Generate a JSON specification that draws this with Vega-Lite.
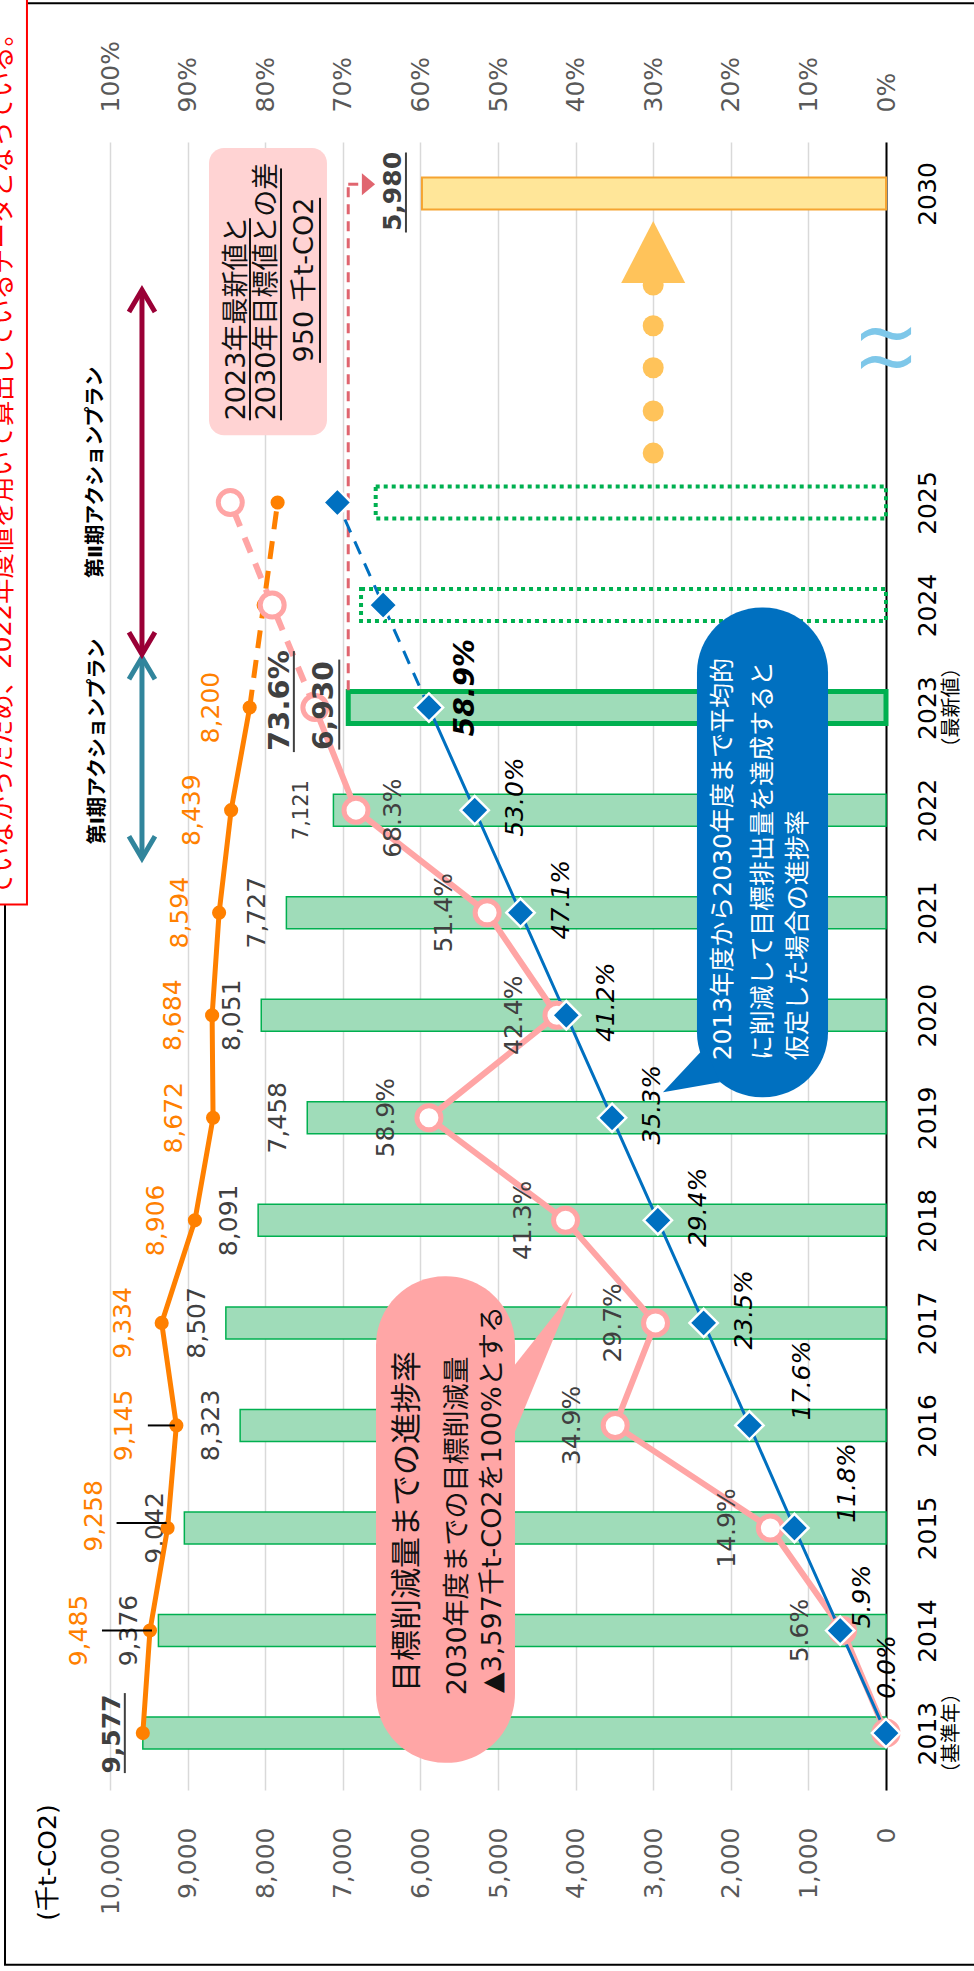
{
"$schema": "https://vega.github.io/schema/vega-lite/v6.json",
"width": 776, "height": 1648,
"autosize": {"type": "none"},
"padding": {"left": 110, "top": 142, "right": 88, "bottom": 181},
"background": "#ffffff",
"config": {"view": {"stroke": null}, "font": "DejaVu Sans, Noto Sans CJK JP"},
"datasets": {
 "d": [
  {"year":2013,"emis":9577,"orange":9577,"pct":0,"target":0},
  {"year":2014,"emis":9376,"orange":9485,"pct":0.056,"target":0.059},
  {"year":2015,"emis":9042,"orange":9258,"pct":0.149,"target":0.118},
  {"year":2016,"emis":8323,"orange":9145,"pct":0.349,"target":0.176},
  {"year":2017,"emis":8507,"orange":9334,"pct":0.297,"target":0.235},
  {"year":2018,"emis":8091,"orange":8906,"pct":0.413,"target":0.294},
  {"year":2019,"emis":7458,"orange":8672,"pct":0.589,"target":0.353},
  {"year":2020,"emis":8051,"orange":8684,"pct":0.424,"target":0.412},
  {"year":2021,"emis":7727,"orange":8594,"pct":0.514,"target":0.471},
  {"year":2022,"emis":7121,"orange":8439,"pct":0.683,"target":0.530},
  {"year":2023,"emis":6930,"orange":8200,"pct":0.736,"target":0.589},
  {"year":2024,"emis":null,"orange":8020,"pct":0.791,"target":0.648},
  {"year":2025,"emis":null,"orange":7840,"pct":0.845,"target":0.707}
 ],
 "goal": [{"year":2030,"goal":5980}],
 "proj": [{"year":2024,"proj":6765},{"year":2025,"proj":6576}],
 "dots": [{"year":2025.80},{"year":2026.48},{"year":2027.18},{"year":2027.86},{"year":2028.52}],
 "sub": [{"year":2013,"t":"（基準年）"},{"year":2023,"t":"（最新値）"}],
 "one": [{}]
},
"data": {"name": "d"},
"resolve": {"scale": {"x": "independent"}},
"layer": [
{"layer": [
 {"data":{"name":"one"},"mark":{"type":"rect","filled":false,"color":"#000000","strokeWidth":2},
  "encoding":{"x":{"datum":11353,"type":"quantitative"},"x2":{"datum":-1340},"y":{"datum":2032.05,"type":"quantitative"},"y2":{"datum":2010.74}}},
 {"data":{"name":"one"},"mark":{"type":"rect","fill":"#ffffff","stroke":"#ff0000","strokeWidth":2},
  "encoding":{"x":{"datum":11482,"type":"quantitative"},"x2":{"datum":11070},"y":{"datum":2032.2,"type":"quantitative"},"y2":{"datum":2021.08}}},
 {"data":{"name":"one"},"mark":{"type":"text","text":"ていなかったため、2022年度値を用いて算出しているデータとなっている。","angle":270,"align":"left","baseline":"middle","fontSize":25.5,"color":"#ff0000"},
  "encoding":{"x":{"datum":11379,"type":"quantitative"},"y":{"datum":2021.14,"type":"quantitative"}}},
 {"transform":[{"filter":"datum.emis != null"}],
  "mark":{"type":"bar","orient":"horizontal","size":32,"fill":"#9fdcb9","stroke":"#00b050","strokeWidth":1.5},
  "encoding":{
   "x":{"field":"emis","type":"quantitative","scale":{"domain":[0,10000],"reverse":true,"nice":false,"zero":false},
    "axis":{"orient":"bottom","values":[0,1000,2000,3000,4000,5000,6000,7000,8000,9000,10000],"labelExpr":"format(datum.value, ',')","labelAngle":270,"labelAlign":"right","labelBaseline":"middle","labelPadding":37,"ticks":false,"tickSize":0,"domain":false,"grid":true,"gridColor":"#d9d9d9","gridWidth":1.5,"labelFontSize":25,"labelColor":"#595959","labelOverlap":false,"labelFlush":false,
     "title":"(千t-CO2)","titleAngle":270,"titleX":-63,"titleY":72,"titleAlign":"center","titleBaseline":"middle","titleFontSize":25,"titleFontWeight":"normal","titleColor":"#000000"}},
   "x2":{"datum":0},
   "y":{"field":"year","type":"quantitative","scale":{"domain":[2012.5,2025,2030,2030.5],"range":[1648,360.5,51.5,0],"nice":false,"zero":false},
    "axis":{"orient":"right","values":[2013,2014,2015,2016,2017,2018,2019,2020,2021,2022,2023,2024,2025,2030],"labelExpr":"format(datum.value, 'd')","labelAngle":270,"labelAlign":"center","labelBaseline":"top","labelPadding":29,"ticks":false,"tickSize":0,"domain":true,"domainColor":"#000000","domainWidth":2,"grid":false,"labelFontSize":25,"labelColor":"#000000","labelOverlap":false,"labelFlush":false,"title":null}}
  }},
 {"transform":[{"filter":"datum.year == 2023"}],
  "mark":{"type":"bar","orient":"horizontal","size":32,"fill":"#9fdcb9","stroke":"#00b050","strokeWidth":5},
  "encoding":{"x":{"field":"emis","type":"quantitative"},"x2":{"datum":0},"y":{"field":"year","type":"quantitative"}}},
 {"data":{"name":"goal"},
  "mark":{"type":"bar","orient":"horizontal","size":32,"fill":"#ffe699","stroke":"#f5a431","strokeWidth":2},
  "encoding":{"x":{"field":"goal","type":"quantitative"},"x2":{"datum":0},"y":{"field":"year","type":"quantitative"}}},
 {"data":{"name":"proj"},
  "mark":{"type":"bar","orient":"horizontal","size":32,"fill":"transparent","stroke":"#00b050","strokeWidth":4,"strokeDash":[4,4]},
  "encoding":{"x":{"field":"proj","type":"quantitative"},"x2":{"datum":0},"y":{"field":"year","type":"quantitative"}}},
 {"data":{"name":"one"},"mark":{"type":"rule","color":"#e0656f","strokeWidth":3,"strokeDash":[10,7]},
  "encoding":{"x":{"datum":6930,"type":"quantitative"},"y":{"datum":2023.17,"type":"quantitative"},"y2":{"datum":2030.1}}},
 {"data":{"name":"one"},"mark":{"type":"rule","color":"#e0656f","strokeWidth":3,"strokeDash":[10,7]},
  "encoding":{"x":{"datum":6930,"type":"quantitative"},"x2":{"datum":6735},"y":{"datum":2030.1,"type":"quantitative"}}},
 {"data":{"name":"one"},"mark":{"type":"point","shape":"M-0.6,-1L0.6,0L-0.6,1Z","size":484,"filled":true,"color":"#e0656f","opacity":1},
  "encoding":{"x":{"datum":6669,"type":"quantitative"},"y":{"datum":2030.1,"type":"quantitative"}}},

 {"data":{"name":"one"},"mark":{"type":"rect","fill":"#ffa6a6","cornerRadius":69},
  "encoding":{"x":{"datum":6572,"type":"quantitative"},"x2":{"datum":4781},"y":{"datum":2017.456,"type":"quantitative"},"y2":{"datum":2012.71}}},
 {"data":{"name":"one"},"mark":{"type":"point","shape":"M0,0L-6.5,8.2L-6.5,15.7Z","size":400,"filled":true,"color":"#ffa6a6","opacity":1},
  "encoding":{"x":{"datum":4034,"type":"quantitative"},"y":{"datum":2017.306,"type":"quantitative"}}},
 {"data":{"name":"one"},"mark":{"type":"text","text":"目標削減量までの進捗率","angle":270,"align":"left","baseline":"middle","fontSize":31,"color":"#111111"},
  "encoding":{"x":{"datum":6160,"type":"quantitative"},"y":{"datum":2013.40,"type":"quantitative"}}},
 {"data":{"name":"one"},"mark":{"type":"text","text":"2030年度までの目標削減量","angle":270,"align":"left","baseline":"middle","fontSize":27,"color":"#111111"},
  "encoding":{"x":{"datum":5515,"type":"quantitative"},"y":{"datum":2013.37,"type":"quantitative"}}},
 {"data":{"name":"one"},"mark":{"type":"text","text":"▲3,597千t-CO2を100%とする","angle":270,"align":"left","baseline":"middle","fontSize":27,"color":"#111111"},
  "encoding":{"x":{"datum":5064,"type":"quantitative"},"y":{"datum":2013.39,"type":"quantitative"}}},

 {"data":{"name":"one"},"mark":{"type":"rect","fill":"#0070c0","cornerRadius":65},
  "encoding":{"x":{"datum":2436,"type":"quantitative"},"x2":{"datum":747},"y":{"datum":2023.976,"type":"quantitative"},"y2":{"datum":2019.2}}},
 {"data":{"name":"one"},"mark":{"type":"point","shape":"M0,0L4.2,-4.5L5.7,-1.0Z","size":400,"filled":true,"color":"#0070c0","opacity":1},
  "encoding":{"x":{"datum":2874,"type":"quantitative"},"y":{"datum":2019.25,"type":"quantitative"}}},
 {"data":{"name":"one"},"mark":{"type":"text","text":"2013年度から2030年度まで平均的","angle":270,"align":"left","baseline":"middle","fontSize":25,"color":"#ffffff"},
  "encoding":{"x":{"datum":2101,"type":"quantitative"},"y":{"datum":2019.56,"type":"quantitative"}}},
 {"data":{"name":"one"},"mark":{"type":"text","text":"に削減して目標排出量を達成すると","angle":270,"align":"left","baseline":"middle","fontSize":25,"color":"#ffffff"},
  "encoding":{"x":{"datum":1585,"type":"quantitative"},"y":{"datum":2019.56,"type":"quantitative"}}},
 {"data":{"name":"one"},"mark":{"type":"text","text":"仮定した場合の進捗率","angle":270,"align":"left","baseline":"middle","fontSize":25,"color":"#ffffff"},
  "encoding":{"x":{"datum":1134,"type":"quantitative"},"y":{"datum":2019.56,"type":"quantitative"}}},

 {"data":{"name":"one"},"mark":{"type":"rect","fill":"#ffd3d3","cornerRadius":15},
  "encoding":{"x":{"datum":8724,"type":"quantitative"},"x2":{"datum":7204},"y":{"datum":2030.49,"type":"quantitative"},"y2":{"datum":2026.09}}},
 {"data":{"name":"one"},"mark":{"type":"text","text":"2023年最新値と","angle":270,"align":"left","baseline":"middle","fontSize":27,"color":"#111111"},
  "encoding":{"x":{"datum":8363,"type":"quantitative"},"y":{"datum":2026.33,"type":"quantitative"}}},
 {"data":{"name":"one"},"mark":{"type":"text","text":"2030年目標値との差","angle":270,"align":"left","baseline":"middle","fontSize":27,"color":"#111111"},
  "encoding":{"x":{"datum":7977,"type":"quantitative"},"y":{"datum":2026.33,"type":"quantitative"}}},
 {"data":{"name":"one"},"mark":{"type":"text","text":"950 千t-CO2","angle":270,"align":"center","baseline":"middle","fontSize":27,"color":"#111111"},
  "encoding":{"x":{"datum":7487,"type":"quantitative"},"y":{"datum":2028.60,"type":"quantitative"}}},
 {"data":{"name":"one"},"mark":{"type":"rule","color":"#111111","strokeWidth":2},
  "encoding":{"x":{"datum":8196,"type":"quantitative"},"y":{"datum":2026.33,"type":"quantitative"},"y2":{"datum":2029.60}}},
 {"data":{"name":"one"},"mark":{"type":"rule","color":"#111111","strokeWidth":2},
  "encoding":{"x":{"datum":7796,"type":"quantitative"},"y":{"datum":2026.33,"type":"quantitative"},"y2":{"datum":2030.27}}},
 {"data":{"name":"one"},"mark":{"type":"rule","color":"#111111","strokeWidth":2},
  "encoding":{"x":{"datum":7294,"type":"quantitative"},"y":{"datum":2027.26,"type":"quantitative"},"y2":{"datum":2029.93}}},

 {"transform":[{"filter":"datum.year >= 2014 && datum.year <= 2021"}],
  "mark":{"type":"text","angle":270,"align":"center","baseline":"middle","fontSize":25,"color":"#404040","xOffset":-29},
  "encoding":{"x":{"field":"emis","type":"quantitative"},"y":{"field":"year","type":"quantitative"},"text":{"field":"emis","format":","}}},
 {"transform":[{"filter":"datum.year == 2022"}],
  "mark":{"type":"text","angle":270,"align":"center","baseline":"middle","fontSize":21,"color":"#404040","xOffset":-31},
  "encoding":{"x":{"field":"emis","type":"quantitative"},"y":{"field":"year","type":"quantitative"},"text":{"field":"emis","format":","}}},
 {"transform":[{"filter":"datum.year == 2013"}],
  "mark":{"type":"text","angle":270,"align":"center","baseline":"middle","fontSize":25,"fontWeight":"bold","color":"#404040","xOffset":-31,"yOffset":1},
  "encoding":{"x":{"field":"emis","type":"quantitative"},"y":{"field":"year","type":"quantitative"},"text":{"field":"emis","format":","}}},
 {"transform":[{"filter":"datum.year == 2013"}],
  "mark":{"type":"tick","orient":"vertical","size":80,"thickness":2,"color":"#404040","xOffset":-18,"opacity":1},
  "encoding":{"x":{"field":"emis","type":"quantitative"},"y":{"field":"year","type":"quantitative"}}},
 {"data":{"name":"goal"},
  "mark":{"type":"text","angle":270,"align":"center","baseline":"middle","fontSize":25,"fontWeight":"bold","color":"#404040","xOffset":-29,"yOffset":-2},
  "encoding":{"x":{"field":"goal","type":"quantitative"},"y":{"field":"year","type":"quantitative"},"text":{"field":"goal","format":","}}},
 {"data":{"name":"goal"},
  "mark":{"type":"tick","orient":"vertical","size":80,"thickness":2,"color":"#404040","xOffset":-16,"yOffset":-1,"opacity":1},
  "encoding":{"x":{"field":"goal","type":"quantitative"},"y":{"field":"year","type":"quantitative"}}},

 {"transform":[{"filter":"datum.year <= 2023"}],
  "mark":{"type":"line","color":"#ff8000","strokeWidth":5},
  "encoding":{"x":{"field":"orange","type":"quantitative"},"y":{"field":"year","type":"quantitative"},"order":{"field":"year","type":"quantitative"}}},
 {"transform":[{"filter":"datum.year >= 2023"}],
  "mark":{"type":"line","color":"#ff8000","strokeWidth":5,"strokeDash":[18,12]},
  "encoding":{"x":{"field":"orange","type":"quantitative"},"y":{"field":"year","type":"quantitative"},"order":{"field":"year","type":"quantitative"}}},
 {"mark":{"type":"circle","size":200,"color":"#ff8000","opacity":1},
  "encoding":{"x":{"field":"orange","type":"quantitative"},"y":{"field":"year","type":"quantitative"}}},
 {"transform":[{"filter":"datum.year >= 2017 && datum.year <= 2023"}],
  "mark":{"type":"text","angle":270,"align":"center","baseline":"middle","fontSize":25,"color":"#ff8000","xOffset":-39},
  "encoding":{"x":{"field":"orange","type":"quantitative"},"y":{"field":"year","type":"quantitative"},"text":{"field":"orange","format":","}}},
 {"transform":[{"filter":"datum.year == 2014"}],
  "mark":{"type":"text","angle":270,"align":"center","baseline":"middle","fontSize":25,"color":"#ff8000","xOffset":-71},
  "encoding":{"x":{"field":"orange","type":"quantitative"},"y":{"field":"year","type":"quantitative"},"text":{"field":"orange","format":","}}},
 {"transform":[{"filter":"datum.year == 2015"}],
  "mark":{"type":"text","angle":270,"align":"center","baseline":"middle","fontSize":25,"color":"#ff8000","xOffset":-74,"yOffset":-12},
  "encoding":{"x":{"field":"orange","type":"quantitative"},"y":{"field":"year","type":"quantitative"},"text":{"field":"orange","format":","}}},
 {"transform":[{"filter":"datum.year == 2016"}],
  "mark":{"type":"text","angle":270,"align":"center","baseline":"middle","fontSize":25,"color":"#ff8000","xOffset":-52},
  "encoding":{"x":{"field":"orange","type":"quantitative"},"y":{"field":"year","type":"quantitative"},"text":{"field":"orange","format":","}}},
 {"transform":[{"filter":"datum.year == 2014"}],
  "mark":{"type":"tick","orient":"horizontal","size":50,"thickness":2,"color":"#000000","xOffset":-23,"opacity":1},
  "encoding":{"x":{"field":"orange","type":"quantitative"},"y":{"field":"year","type":"quantitative"}}},
 {"transform":[{"filter":"datum.year == 2015"}],
  "mark":{"type":"tick","orient":"horizontal","size":50,"thickness":2,"color":"#000000","xOffset":-26,"yOffset":-5,"opacity":1},
  "encoding":{"x":{"field":"orange","type":"quantitative"},"y":{"field":"year","type":"quantitative"}}},
 {"transform":[{"filter":"datum.year == 2016"}],
  "mark":{"type":"tick","orient":"horizontal","size":27,"thickness":2,"color":"#000000","xOffset":-15,"opacity":1},
  "encoding":{"x":{"field":"orange","type":"quantitative"},"y":{"field":"year","type":"quantitative"}}},

 {"data":{"name":"dots"},"mark":{"type":"circle","size":441,"color":"#ffc35a","opacity":1},
  "encoding":{"x":{"datum":3000,"type":"quantitative"},"y":{"field":"year","type":"quantitative"}}},
 {"data":{"name":"one"},"mark":{"type":"point","shape":"M-3.2,0L3.2,0L0,-6.2Z","size":400,"filled":true,"color":"#ffc35a","opacity":1},
  "encoding":{"x":{"datum":3000,"type":"quantitative"},"y":{"datum":2028.55,"type":"quantitative"}}},
 {"data":{"name":"one"},"mark":{"type":"text","text":"~","align":"center","baseline":"middle","fontSize":80,"color":"#7ec7e9","yOffset":-14},
  "encoding":{"x":{"datum":0,"type":"quantitative"},"y":{"datum":2027.48,"type":"quantitative"}}},
 {"data":{"name":"one"},"mark":{"type":"text","text":"~","align":"center","baseline":"middle","fontSize":80,"color":"#7ec7e9","yOffset":14},
  "encoding":{"x":{"datum":0,"type":"quantitative"},"y":{"datum":2027.48,"type":"quantitative"}}},

 {"data":{"name":"one"},"mark":{"type":"rule","color":"#31859c","strokeWidth":5},
  "encoding":{"x":{"datum":9588,"type":"quantitative"},"y":{"datum":2021.56,"type":"quantitative"},"y2":{"datum":2023.46}}},
 {"data":{"name":"one"},"mark":{"type":"point","shape":"M-1.3,2.2L0,0L1.3,2.2","size":400,"filled":false,"color":"#31859c","strokeWidth":5,"opacity":1},
  "encoding":{"x":{"datum":9588,"type":"quantitative"},"y":{"datum":2023.49,"type":"quantitative"}}},
 {"data":{"name":"one"},"mark":{"type":"point","shape":"M-1.3,-2.2L0,0L1.3,-2.2","size":400,"filled":false,"color":"#31859c","strokeWidth":5,"opacity":1},
  "encoding":{"x":{"datum":9588,"type":"quantitative"},"y":{"datum":2021.53,"type":"quantitative"}}},
 {"data":{"name":"one"},"mark":{"type":"rule","color":"#9a0036","strokeWidth":5},
  "encoding":{"x":{"datum":9588,"type":"quantitative"},"y":{"datum":2023.55,"type":"quantitative"},"y2":{"datum":2028.41}}},
 {"data":{"name":"one"},"mark":{"type":"point","shape":"M-1.3,-2.2L0,0L1.3,-2.2","size":400,"filled":false,"color":"#9a0036","strokeWidth":5,"opacity":1},
  "encoding":{"x":{"datum":9588,"type":"quantitative"},"y":{"datum":2023.52,"type":"quantitative"}}},
 {"data":{"name":"one"},"mark":{"type":"point","shape":"M-1.3,2.2L0,0L1.3,2.2","size":400,"filled":false,"color":"#9a0036","strokeWidth":5,"opacity":1},
  "encoding":{"x":{"datum":9588,"type":"quantitative"},"y":{"datum":2028.44,"type":"quantitative"}}},
 {"data":{"name":"one"},"mark":{"type":"text","text":"第Ⅱ期アクションプラン","angle":270,"align":"center","baseline":"middle","fontSize":20,"fontWeight":"bold","color":"#000000"},
  "encoding":{"x":{"datum":10180,"type":"quantitative"},"y":{"datum":2025.49,"type":"quantitative"}}},
 {"data":{"name":"one"},"mark":{"type":"text","text":"第Ⅰ期アクションプラン","angle":270,"align":"center","baseline":"middle","fontSize":20,"fontWeight":"bold","color":"#000000"},
  "encoding":{"x":{"datum":10155,"type":"quantitative"},"y":{"datum":2022.67,"type":"quantitative"}}},
 {"data":{"name":"sub"},"mark":{"type":"text","angle":270,"align":"center","baseline":"middle","fontSize":20,"color":"#000000","xOffset":66},
  "encoding":{"x":{"datum":0,"type":"quantitative"},"y":{"field":"year","type":"quantitative"},"text":{"field":"t"}}}
]},
{"layer": [
 {"transform":[{"filter":"datum.year <= 2023"}],
  "mark":{"type":"line","color":"#ffa5a5","strokeWidth":6},
  "encoding":{
   "x":{"field":"pct","type":"quantitative","scale":{"domain":[0,1],"reverse":true,"nice":false,"zero":false},
    "axis":{"orient":"top","values":[0,0.1,0.2,0.3,0.4,0.5,0.6,0.7,0.8,0.9,1],"labelExpr":"format(datum.value, '.0%')","labelAngle":270,"labelAlign":"left","labelBaseline":"middle","labelPadding":30,"ticks":false,"tickSize":0,"domain":false,"grid":false,"labelFontSize":25,"labelColor":"#595959","labelOverlap":false,"labelFlush":false,"title":null}},
   "y":{"field":"year","type":"quantitative"},
   "order":{"field":"year","type":"quantitative"}}},
 {"transform":[{"filter":"datum.year >= 2023"}],
  "mark":{"type":"line","color":"#ffa5a5","strokeWidth":6,"strokeDash":[16,12]},
  "encoding":{"x":{"field":"pct","type":"quantitative"},"y":{"field":"year","type":"quantitative"},"order":{"field":"year","type":"quantitative"}}},
 {"transform":[{"filter":"datum.year <= 2023"}],
  "mark":{"type":"line","color":"#0070c0","strokeWidth":3},
  "encoding":{"x":{"field":"target","type":"quantitative"},"y":{"field":"year","type":"quantitative"},"order":{"field":"year","type":"quantitative"}}},
 {"transform":[{"filter":"datum.year >= 2023"}],
  "mark":{"type":"line","color":"#0070c0","strokeWidth":3,"strokeDash":[14,10]},
  "encoding":{"x":{"field":"target","type":"quantitative"},"y":{"field":"year","type":"quantitative"},"order":{"field":"year","type":"quantitative"}}},
 {"mark":{"type":"point","shape":"circle","filled":true,"fill":"#ffffff","stroke":"#ffa5a5","strokeWidth":5,"size":576,"opacity":1},
  "encoding":{"x":{"field":"pct","type":"quantitative"},"y":{"field":"year","type":"quantitative"}}},
 {"mark":{"type":"point","shape":"diamond","filled":true,"fill":"#0070c0","stroke":"#ffffff","strokeWidth":2.5,"size":800,"opacity":1},
  "encoding":{"x":{"field":"target","type":"quantitative"},"y":{"field":"year","type":"quantitative"}}},
 {"transform":[{"filter":"datum.year >= 2014 && datum.year <= 2021"}],
  "mark":{"type":"text","angle":270,"align":"center","baseline":"middle","fontSize":25,"color":"#404040","xOffset":-43},
  "encoding":{"x":{"field":"pct","type":"quantitative"},"y":{"field":"year","type":"quantitative"},"text":{"field":"pct","format":".1%"}}},
 {"transform":[{"filter":"datum.year == 2022"}],
  "mark":{"type":"text","angle":270,"align":"center","baseline":"middle","fontSize":25,"color":"#404040","xOffset":37,"yOffset":8},
  "encoding":{"x":{"field":"pct","type":"quantitative"},"y":{"field":"year","type":"quantitative"},"text":{"field":"pct","format":".1%"}}},
 {"transform":[{"filter":"datum.year == 2023"}],
  "mark":{"type":"text","angle":270,"align":"center","baseline":"middle","fontSize":29,"fontWeight":"bold","color":"#404040","xOffset":-35,"yOffset":-7},
  "encoding":{"x":{"field":"pct","type":"quantitative"},"y":{"field":"year","type":"quantitative"},"text":{"field":"pct","format":".1%"}}},
 {"transform":[{"filter":"datum.year == 2023"}],
  "mark":{"type":"tick","orient":"vertical","size":101,"thickness":2,"color":"#404040","xOffset":-21,"yOffset":-6,"opacity":1},
  "encoding":{"x":{"field":"pct","type":"quantitative"},"y":{"field":"year","type":"quantitative"}}},
 {"transform":[{"filter":"datum.year == 2013"}],
  "mark":{"type":"text","angle":270,"align":"center","baseline":"middle","fontSize":25,"fontStyle":"italic","color":"#000000","xOffset":1,"yOffset":-66},
  "encoding":{"x":{"field":"target","type":"quantitative"},"y":{"field":"year","type":"quantitative"},"text":{"field":"target","format":".1%"}}},
 {"transform":[{"filter":"datum.year == 2014"}],
  "mark":{"type":"text","angle":270,"align":"center","baseline":"middle","fontSize":25,"fontStyle":"italic","color":"#000000","xOffset":22,"yOffset":-34},
  "encoding":{"x":{"field":"target","type":"quantitative"},"y":{"field":"year","type":"quantitative"},"text":{"field":"target","format":".1%"}}},
 {"transform":[{"filter":"datum.year == 2015 || datum.year == 2016"}],
  "mark":{"type":"text","angle":270,"align":"center","baseline":"middle","fontSize":25,"fontStyle":"italic","color":"#000000","xOffset":53,"yOffset":-45},
  "encoding":{"x":{"field":"target","type":"quantitative"},"y":{"field":"year","type":"quantitative"},"text":{"field":"target","format":".1%"}}},
 {"transform":[{"filter":"datum.year >= 2017 && datum.year <= 2022"}],
  "mark":{"type":"text","angle":270,"align":"center","baseline":"middle","fontSize":25,"fontStyle":"italic","color":"#000000","xOffset":40,"yOffset":-13},
  "encoding":{"x":{"field":"target","type":"quantitative"},"y":{"field":"year","type":"quantitative"},"text":{"field":"target","format":".1%"}}},
 {"transform":[{"filter":"datum.year == 2023"}],
  "mark":{"type":"text","angle":270,"align":"center","baseline":"middle","fontSize":28,"fontStyle":"italic","fontWeight":"bold","color":"#000000","xOffset":37,"yOffset":-20},
  "encoding":{"x":{"field":"target","type":"quantitative"},"y":{"field":"year","type":"quantitative"},"text":{"field":"target","format":".1%"}}}
]},
{"layer": [
 {"transform":[{"filter":"datum.year == 2023"}],
  "mark":{"type":"text","angle":270,"align":"center","baseline":"middle","fontSize":28,"fontWeight":"bold","color":"#404040","xOffset":-23,"yOffset":-2},
  "encoding":{"x":{"field":"emis","type":"quantitative","scale":{"domain":[0,10000],"reverse":true,"nice":false,"zero":false},"axis":null},"y":{"field":"year","type":"quantitative"},"text":{"field":"emis","format":","}}},
 {"transform":[{"filter":"datum.year == 2023"}],
  "mark":{"type":"tick","orient":"vertical","size":90,"thickness":2,"color":"#404040","xOffset":-9,"yOffset":-3,"opacity":1},
  "encoding":{"x":{"field":"emis","type":"quantitative","axis":null},"y":{"field":"year","type":"quantitative"}}}
]}
]
}
